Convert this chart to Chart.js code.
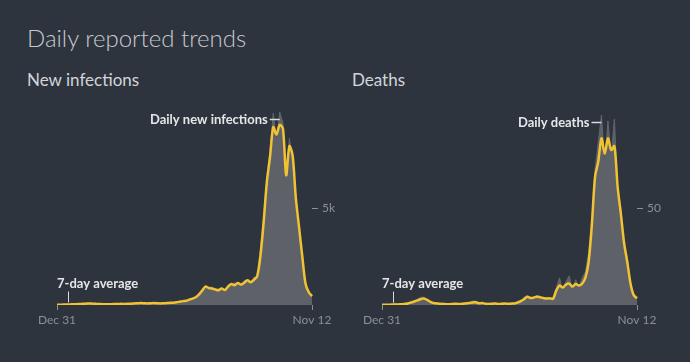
<!DOCTYPE html>
<html>
<head>
<meta charset="utf-8">
<script src="https://cdn.jsdelivr.net/npm/chart.js@4.4.0/dist/chart.umd.min.js"></script>
<style>
  body { margin:0; background:#2e343e; width:690px; height:362px; overflow:hidden; font-family: Lato, "Noto Sans", sans-serif; }
  h1 { position:absolute; left:27px; top:26px; margin:0; line-height:1; font-weight:300; font-size:24px; color:#c6cacf; }
  h2 { position:absolute; top:71px; margin:0; line-height:1; font-weight:400; font-size:17px; color:#d2d5d9; }
  .panel { position:absolute; top:100px; width:345px; height:240px; }
</style>
</head>
<body>
<h1>Daily reported trends</h1>
<h2 style="left:27px">New infections</h2>
<h2 style="left:352px">Deaths</h2>
<div class="panel" style="left:0"><canvas id="chart1" width="345" height="240"></canvas></div>
<div class="panel" style="left:325px"><canvas id="chart2" width="345" height="240"></canvas></div>
<script>
// one point every 4 days, Dec 31 -> Nov 12
var tickLabels = ['Dec 31', 'Nov 12'];

var infDaily = [0,20,10,30,20,40,30,60,50,90, 70,80,50,60,30,50,30,60,40,70,
  50,60,50,90,70,110,80,100,70,110, 90,100,70,110,90,130,110,160,150,230,
  200,310,300,460,500,850,1000,800,950,700, 850,800,700,1050,1000,1150,1100,950,1250,1300,
  1100,1450,1400,2900,4600,6600,8000,9900,8400,9950, 9400,6500,8600,7400,5700,3800,2600,1000,700,400];
var infAvg = [10,15,20,25,30,35,40,50,60,70, 80,70,60,50,45,40,40,45,50,55,
  60,55,60,70,80,90,100,90,80,90, 100,90,80,90,100,110,120,140,170,200,
  220,280,330,400,550,750,950,880,850,800, 760,850,770,950,1080,1020,1140,1050,1150,1280,
  1170,1300,1480,2500,4230,6320,7650,9180,8800,9300, 9100,6700,8200,7700,5500,4000,2500,1100,660,460];

var deathDaily = [0,0,0,0,1,0,0,1,1,2, 2,3,4,4,2,2,1,1,0,1,
  0,0,1,1,0,1,1,1,2,2, 1,1,0,1,1,1,0,1,1,0,
  1,1,2,2,4,5,3,4,5,4, 3,4,3,4,9,14,7,12,15,8,
  13,9,14,17,27,45,70,84,98,72, 95,76,96,58,50,31,25,10,6,3];
var deathAvg = [0.1,0.1,0.1,0.2,0.2,0.3,0.4,0.5,0.8,1.2, 1.8,2.4,3.0,3.4,2.6,1.6,1.0,0.8,0.6,0.5,
  0.4,0.4,0.5,0.6,0.5,0.6,0.8,1.0,1.3,1.4, 0.9,1.0,0.7,0.5,0.6,0.8,0.5,0.6,0.8,0.6,
  0.7,0.8,1.2,2.0,3.0,4.2,3.6,3.8,4.3,4.0, 3.6,3.3,3.5,3.2,7.5,10.0,9.0,10.5,11.0,9.5,
  10.8,10.0,11.0,14,22,41,66,74,86,78, 86,80,82,61,47,32,22,11,5,3.5];

var infTicks = [5000], infTickLabels = ['5k'];
var deathTicks = [50], deathTickLabels = ['50'];

var xLabels = infAvg.map(function(v, i){ return i; });

// labels drawn next to the peak and near the start
var notes = {
  id: 'notes',
  afterDatasetsDraw: function(chart, args, o) {
    var ctx = chart.ctx, x = chart.scales.x, y = chart.scales.y;
    var daily = chart.data.datasets[1].data, avg = chart.data.datasets[0].data;
    var pk = daily.indexOf(Math.max.apply(null, daily));
    var px = x.getPixelForValue(pk), py = Math.round(y.getPixelForValue(daily[pk])) + 7.5;
    ctx.save();
    ctx.strokeStyle = '#d8dadd';
    ctx.lineWidth = 1.5;
    ctx.beginPath(); ctx.moveTo(px - 10, py); ctx.lineTo(px, py); ctx.stroke();
    ctx.fillStyle = '#e4e6e8';
    ctx.font = 'bold 13px Lato, "Noto Sans", sans-serif';
    ctx.textAlign = 'right'; ctx.textBaseline = 'middle';
    ctx.fillText(o.peak, px - 12, py);
    var tx = Math.round(x.getPixelForValue(3)) + 1.5;
    var ty = y.getPixelForValue(avg[3]) - 2;
    ctx.lineWidth = 1;
    ctx.beginPath(); ctx.moveTo(tx, ty); ctx.lineTo(tx, ty - 11); ctx.stroke();
    ctx.textAlign = 'left'; ctx.textBaseline = 'alphabetic';
    ctx.fillText('7-day average', x.getPixelForValue(0), ty - 15);
    ctx.restore();
  }
};

function makeChart(id, avg, daily, max, padTop, ticks, tickNames, peakText) {
  return new Chart(document.getElementById(id), {
    type: 'line',
    data: {
      labels: xLabels,
      datasets: [{
        data: avg,
        order: 0,
        borderColor: '#f1c232',
        borderWidth: 2.5,
        pointRadius: 0,
        tension: 0.3,
        fill: false
      }, {
        data: daily,
        order: 1,
        borderColor: '#62666c',
        borderWidth: 1,
        backgroundColor: '#5e6268',
        pointRadius: 0,
        tension: 0,
        fill: 'origin'
      }]
    },
    plugins: [notes],
    options: {
      responsive: false,
      animation: false,
      layout: { padding: { left: 57, top: padTop, right: 0, bottom: 10 } },
      plugins: { legend: { display: false }, tooltip: { enabled: false }, notes: { peak: peakText } },
      scales: {
        x: {
          border: { display: false },
          grid: { drawOnChartArea: false, tickLength: 5, color: '#8b9097' },
          afterBuildTicks: function(s) { s.ticks = s.ticks.filter(function(t){ return t.value === 0 || t.value === avg.length - 1; }); },
          afterFit: function(s) { s.height = 25; },
          ticks: {
            autoSkip: false, maxRotation: 0, padding: 3,
            color: '#8b9097', font: { size: 12, family: 'Lato, "Noto Sans", sans-serif' },
            callback: function(v) { return v === 0 ? tickLabels[0] : tickLabels[1]; }
          }
        },
        y: {
          position: 'right',
          min: 0, max: max,
          border: { display: false },
          grid: { drawOnChartArea: false, tickLength: 6, color: '#8b9097' },
          afterBuildTicks: function(s) { s.ticks = ticks.map(function(v){ return { value: v }; }); },
          afterFit: function(s) { s.width = 33; },
          ticks: {
            padding: 4,
            color: '#8b9097', font: { size: 12, family: 'Lato, "Noto Sans", sans-serif' },
            callback: function(v) { return tickNames[ticks.indexOf(v)]; }
          }
        }
      }
    }
  });
}

makeChart('chart1', infAvg, infDaily, 10000, 9, infTicks, infTickLabels, 'Daily new infections');
makeChart('chart2', deathAvg, deathDaily, 100, 7, deathTicks, deathTickLabels, 'Daily deaths');
</script>
</body>
</html>
